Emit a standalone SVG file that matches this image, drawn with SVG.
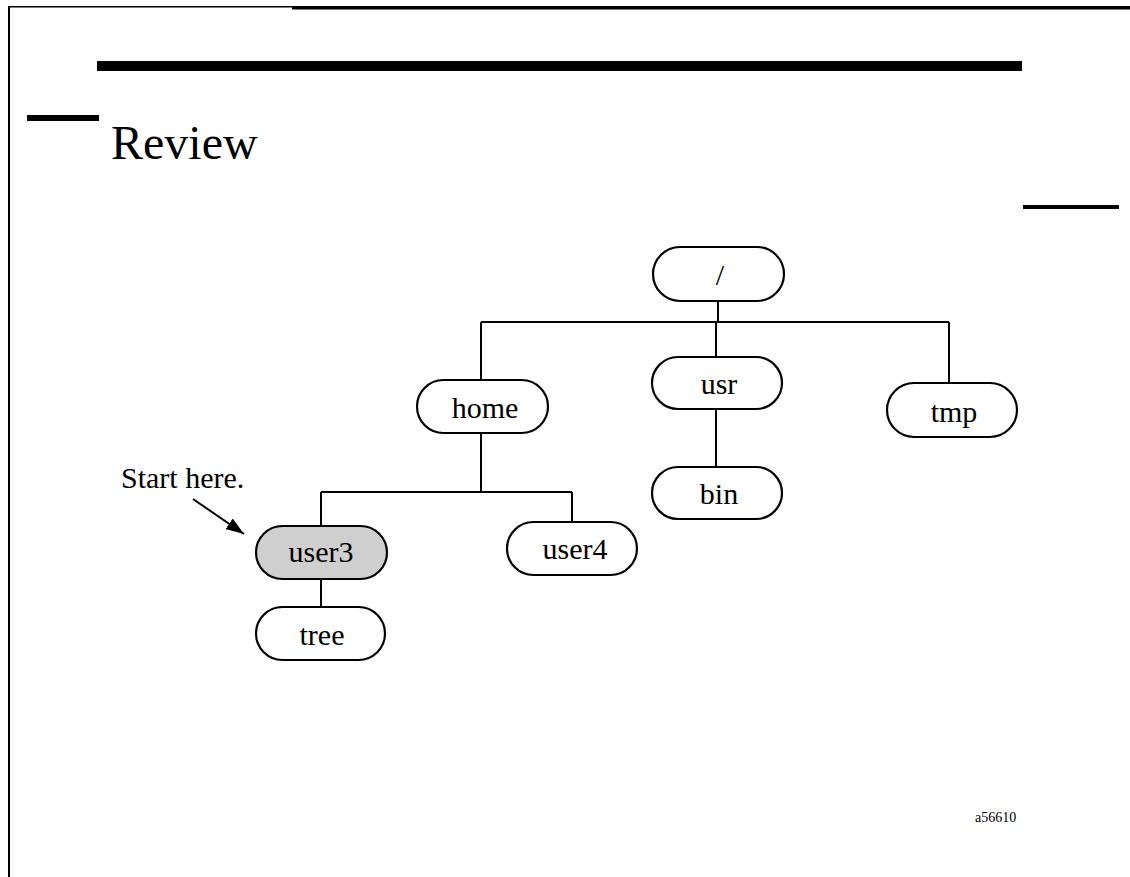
<svg xmlns="http://www.w3.org/2000/svg" width="1130" height="877" viewBox="0 0 1130 877">
  <style>
    .node rect { fill: #ffffff; stroke: #000000; stroke-width: 2.2; }
    .node.start rect { fill: #cfcfcf; }
    .node text, .label { font-family: "Liberation Serif", "Times New Roman", serif; fill: #000000; }
    .node text { font-size: 30px; text-anchor: middle; }
    .links path { fill: none; stroke: #000000; stroke-width: 2; }
    .rule { fill: #000000; }
  </style>
  <defs>
    <marker id="arrowhead" viewBox="0 0 10 10" refX="10" refY="5" markerWidth="18" markerHeight="18" markerUnits="userSpaceOnUse" orient="auto">
      <path d="M0 1.5 L10 5 L0 8.5 Z" fill="#000000"/>
    </marker>
  </defs>

  <rect width="1130" height="877" fill="#ffffff"/>

  <!-- page frame and header rules -->
  <g id="frame">
    <rect class="rule" x="8" y="6" width="2" height="871"/>
    <rect class="rule" x="8" y="6" width="284" height="1.5"/>
    <rect class="rule" x="292" y="6" width="838" height="3.5"/>
    <rect class="rule" x="97" y="61" width="925" height="10"/>
    <rect class="rule" x="27" y="115" width="72" height="6"/>
    <rect class="rule" x="1023" y="205" width="96" height="4"/>
  </g>

  <text id="title" class="label" x="111" y="159" font-size="48">Review</text>

  <!-- tree connectors -->
  <g id="links" class="links">
    <path d="M718 301 V322"/>
    <path d="M481 322 H949"/>
    <path d="M481 322 V380"/>
    <path d="M716 322 V357"/>
    <path d="M949 322 V383"/>
    <path d="M716 409 V467"/>
    <path d="M481 433 V492"/>
    <path d="M321 492 H572"/>
    <path d="M321 492 V526"/>
    <path d="M572 492 V522"/>
    <path d="M321 579 V607"/>
    <path d="M193 499 L244 534" marker-end="url(#arrowhead)"/>
  </g>

  <g id="node-root" class="node">
    <rect x="653" y="247" width="131" height="54" rx="27"/>
    <text x="720" y="285">/</text>
  </g>
  <g id="node-home" class="node">
    <rect x="417" y="380" width="131" height="53" rx="26.5"/>
    <text x="485" y="418">home</text>
  </g>
  <g id="node-usr" class="node">
    <rect x="652" y="357" width="130" height="52" rx="26"/>
    <text x="719" y="394">usr</text>
  </g>
  <g id="node-tmp" class="node">
    <rect x="887" y="383" width="130" height="54" rx="27"/>
    <text x="954" y="422">tmp</text>
  </g>
  <g id="node-bin" class="node">
    <rect x="652" y="467" width="130" height="52" rx="26"/>
    <text x="719" y="504">bin</text>
  </g>
  <g id="node-user3" class="node start">
    <rect x="256" y="526" width="131" height="53" rx="26.5"/>
    <text x="321" y="562">user3</text>
  </g>
  <g id="node-user4" class="node">
    <rect x="507" y="522" width="130" height="53" rx="26.5"/>
    <text x="575" y="559">user4</text>
  </g>
  <g id="node-tree" class="node">
    <rect x="256" y="607" width="129" height="53" rx="26.5"/>
    <text x="322" y="645">tree</text>
  </g>

  <text id="start-note" class="label" x="121" y="488" font-size="30">Start here.</text>
  <text id="figure-id" class="label" x="975" y="822" font-size="14">a56610</text>
</svg>
